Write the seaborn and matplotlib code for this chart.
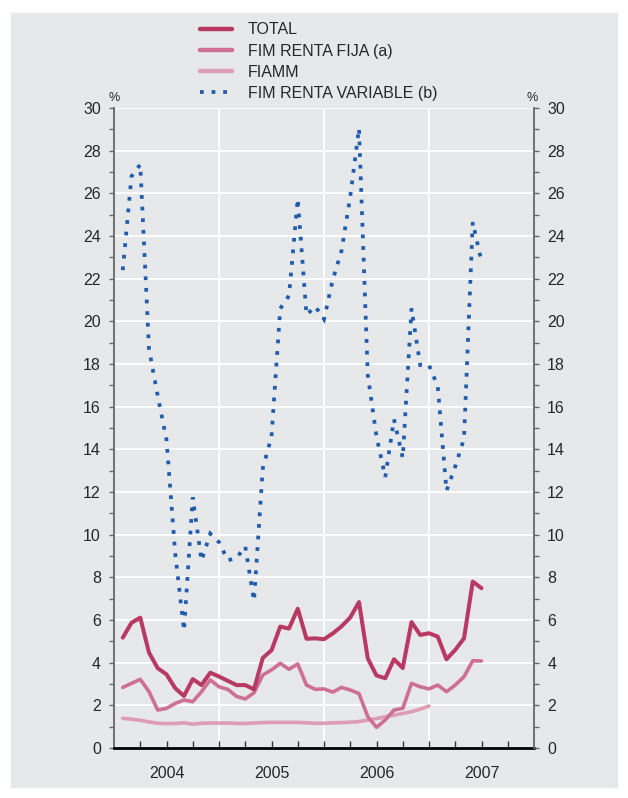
import matplotlib
matplotlib.use("Agg")
import pandas as pd
import matplotlib.pyplot as plt
import seaborn as sns
from matplotlib.lines import Line2D
from matplotlib.patches import Rectangle
from matplotlib.ticker import MultipleLocator, FixedLocator

# -------------------------------
# Data (monthly, month 1 = Feb 2004)
# -------------------------------
months = list(range(1, 43))
months_fiamm = list(range(1, 37))

total = [5.17, 5.87, 6.11, 4.47, 3.74, 3.45, 2.80, 2.44, 3.23, 2.95, 3.53, 3.35,
         3.15, 2.95, 2.95, 2.75, 4.22, 4.58, 5.69, 5.60, 6.53, 5.12, 5.14, 5.10,
         5.37, 5.70, 6.12, 6.84, 4.20, 3.40, 3.27, 4.16, 3.75, 5.90, 5.30, 5.38,
         5.22, 4.16, 4.60, 5.14, 7.80, 7.49]

renta_fija = [2.84, 3.03, 3.22, 2.64, 1.78, 1.86, 2.09, 2.25, 2.17, 2.64, 3.19, 2.87,
              2.75, 2.42, 2.30, 2.59, 3.42, 3.66, 3.97, 3.69, 3.94, 2.95, 2.75, 2.77,
              2.62, 2.84, 2.72, 2.55, 1.47, 0.97, 1.31, 1.78, 1.86, 3.03, 2.87, 2.77,
              2.95, 2.64, 2.95, 3.34, 4.09, 4.08]

fiamm = [1.39, 1.35, 1.30, 1.22, 1.16, 1.14, 1.15, 1.18, 1.12, 1.16, 1.17, 1.17,
         1.17, 1.15, 1.15, 1.17, 1.19, 1.20, 1.20, 1.20, 1.20, 1.18, 1.16, 1.16,
         1.18, 1.19, 1.21, 1.24, 1.31, 1.38, 1.46, 1.54, 1.62, 1.70, 1.82, 1.97]

renta_variable = [22.4, 26.8, 27.35, 18.7, 16.5, 14.45, 9.1, 5.5, 11.75, 8.78, 10.05, 9.65,
                  8.8, 8.9, 9.45, 6.9, 13.1, 14.6, 20.6, 21.2, 25.75, 20.3, 20.7, 20.1,
                  21.95, 23.3, 25.85, 29.05, 17.5, 14.6, 12.7, 15.4, 13.6, 20.6, 17.95, 17.95,
                  16.95, 12.06, 13.2, 14.5, 24.65, 22.8]

years = ["2004", "2005", "2006", "2007"]
year_centers = [6, 18, 30, 42]
series_labels = ["TOTAL", "FIM RENTA FIJA (a)", "FIAMM", "FIM RENTA VARIABLE (b)"]

# -------------------------------
# Style
# -------------------------------
BG = "#e7e8ea"
C_TOTAL = "#b83a63"
C_FIJA = "#cd7091"
C_FIAMM = "#dd9db3"
C_VAR = "#1f5cae"
DOTS = (0, (1, 2.1))
FS = 11.5

sns.set_theme(style="darkgrid", rc={
    "axes.facecolor": BG,
    "grid.color": "white",
    "grid.linewidth": 1.3,
})
plt.rcParams["font.family"] = ["Liberation Sans", "DejaVu Sans"]

fig = plt.figure(figsize=(6.28, 7.98), dpi=100)
fig.patches.append(Rectangle((11 / 628, 1 - 787 / 798), 606 / 628, 774 / 798,
                             transform=fig.transFigure, color=BG, zorder=-10))

ax = fig.add_axes([114 / 628, 1 - 748 / 798, 420 / 628, 640 / 798])
ax.set_zorder(2)

sns.lineplot(x=months, y=renta_variable, ax=ax, color=C_VAR, linewidth=2.7,
             linestyle=DOTS, dash_joinstyle="miter")
sns.lineplot(x=months_fiamm, y=fiamm, ax=ax, color=C_FIAMM, linewidth=2.6)
sns.lineplot(x=months, y=renta_fija, ax=ax, color=C_FIJA, linewidth=2.6)
sns.lineplot(x=months, y=total, ax=ax, color=C_TOTAL, linewidth=2.9)

ax.set_xlim(0, 48)
ax.set_ylim(0, 30)
ax.set_xlabel("")
ax.set_ylabel("")

# y axis
ax.yaxis.set_major_locator(MultipleLocator(2))
ax.yaxis.set_minor_locator(MultipleLocator(1))
ax.grid(True, axis="y", which="major", color="white", linewidth=1.3)

# x axis: quarter ticks, year labels in the middle of each year
ax.xaxis.set_major_locator(FixedLocator(year_centers))
ax.set_xticklabels(years)
ax.xaxis.set_minor_locator(FixedLocator([q for q in range(3, 48, 3)]))
ax.grid(False, axis="x", which="major")
for xv in (12, 24, 36):
    ax.axvline(xv, color="white", linewidth=1.3, zorder=0.5)

ax.tick_params(axis="x", which="both", direction="in", bottom=True, length=5,
               width=1.0, color="#333333", labelsize=FS, pad=13)
ax.tick_params(axis="y", which="both", direction="out", left=True, length=3.5,
               width=1.0, color="#666666", labelsize=FS, pad=6)

for side in ("top", "right"):
    ax.spines[side].set_visible(False)
ax.spines["left"].set_color("#666666")
ax.spines["left"].set_linewidth(1.3)
ax.spines["bottom"].set_color("black")
ax.spines["bottom"].set_linewidth(2.0)

# right axis copy
ax2 = ax.twinx()
ax2.set_ylim(0, 30)
ax2.grid(False)
ax2.yaxis.set_major_locator(MultipleLocator(2))
ax2.yaxis.set_minor_locator(MultipleLocator(1))
ax2.tick_params(axis="y", which="both", direction="out", right=True, length=3.5,
                width=1.0, color="#666666", labelsize=FS, pad=6)
for side in ("top", "left", "bottom"):
    ax2.spines[side].set_visible(False)
ax2.spines["right"].set_color("#666666")
ax2.spines["right"].set_linewidth(1.3)

# percent markers
fig.text(114 / 628, 1 - 98 / 798, "%", fontsize=9, ha="center", va="center")
fig.text(532 / 628, 1 - 98 / 798, "%", fontsize=9, ha="center", va="center")

# legend
handles = [
    Line2D([], [], color=C_TOTAL, linewidth=3.2),
    Line2D([], [], color=C_FIJA, linewidth=3.2),
    Line2D([], [], color=C_FIAMM, linewidth=3.2),
    Line2D([], [], color=C_VAR, linewidth=2.7, linestyle=DOTS),
]
fig.legend(handles, series_labels, loc="upper left",
           bbox_to_anchor=(200 / 628, 1 - 22.5 / 798), frameon=False,
           fontsize=FS, handlelength=2.0, handletextpad=1.0,
           labelspacing=0.38, borderpad=0, borderaxespad=0)

fig.savefig("out.png", dpi=100, facecolor="white")
